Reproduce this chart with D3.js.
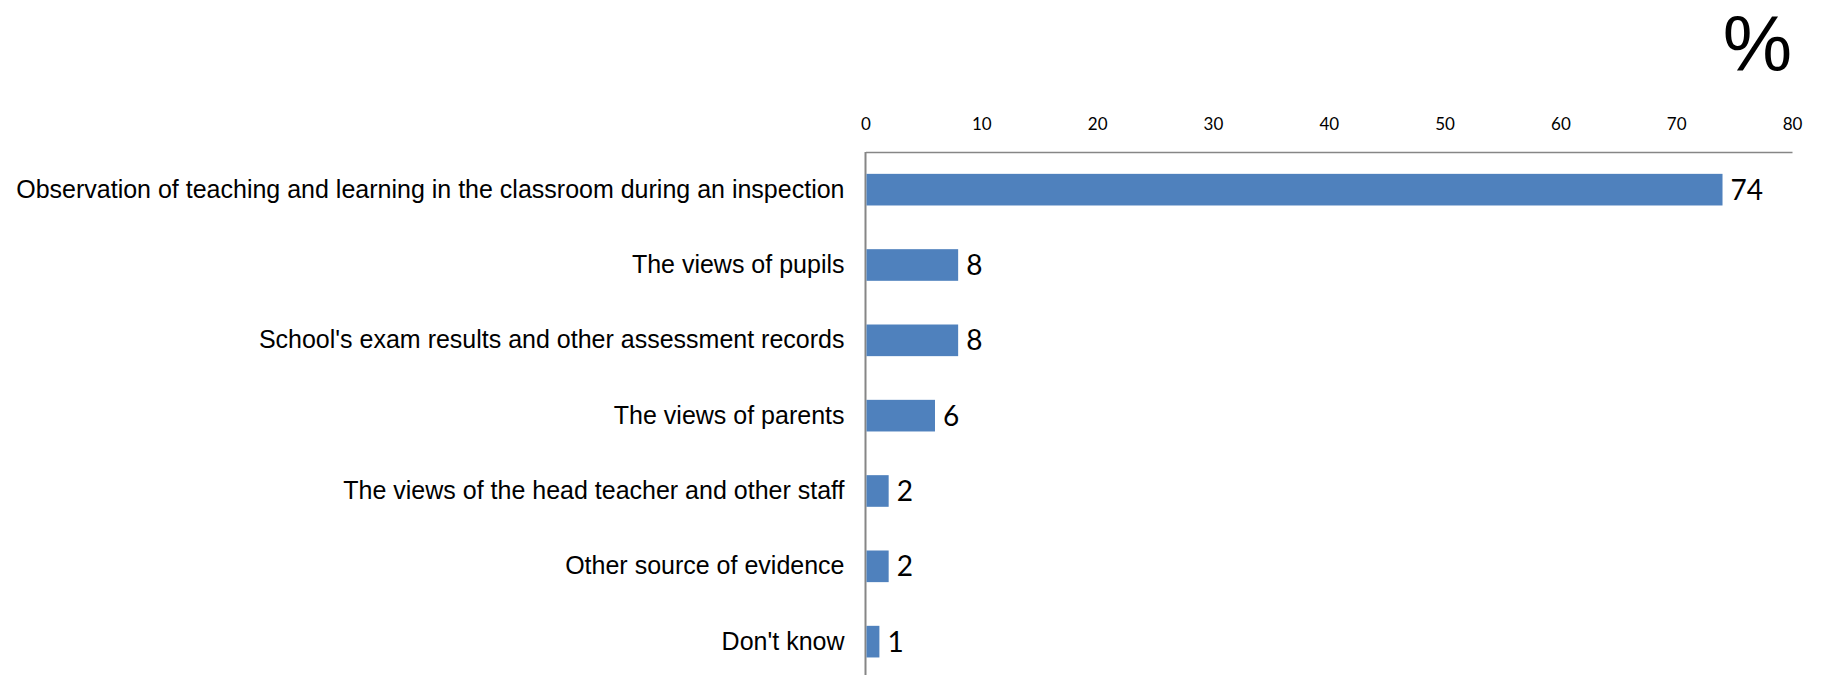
<!DOCTYPE html>
<html>
<head>
<meta charset="utf-8">
<script src="https://cdn.jsdelivr.net/npm/d3@7"></script>
<style>
  body { margin: 0; background: #fff; }
</style>
</head>
<body>
<svg width="1821" height="675"></svg>
<script>
// data
var categories = [
  "Observation of teaching and learning in the classroom during an inspection",
  "The views of pupils",
  "School's exam results and other assessment records",
  "The views of parents",
  "The views of the head teacher and other staff",
  "Other source of evidence",
  "Don't know"
];
var values = [74, 8, 8, 6, 2, 2, 1.2];
var xTicks = [0, 10, 20, 30, 40, 50, 60, 70, 80];

var svg = d3.select("svg"),
    width = +svg.attr("width"),
    height = +svg.attr("height");

var margin = {top: 152, left: 865.5, right: 29};

var x = d3.scaleLinear()
    .domain([0, 80])
    .range([margin.left, width - margin.right]);

var y = d3.scaleBand()
    .domain(categories)
    .range([margin.top, margin.top + 7 * 75.33])
    .paddingInner(0.58)
    .paddingOuter(0.29);

// top axis, labels only
var xAxis = svg.append("g")
    .attr("transform", "translate(0," + margin.top + ")")
    .call(d3.axisTop(x).tickValues(xTicks).tickSize(0).tickPadding(22));
xAxis.attr("font-family", null).attr("font-size", null);
xAxis.select(".domain").attr("stroke", "#868686").attr("stroke-width", 1.5);
xAxis.selectAll("text")
    .style("font-family", "Lato, 'Open Sans', sans-serif")
    .style("font-size", "17px")
    .attr("fill", "#000");

// category labels
var yAxis = svg.append("g")
    .attr("transform", "translate(" + margin.left + ",0)")
    .call(d3.axisLeft(y).tickSize(0).tickPadding(21));
yAxis.select(".domain").remove();
yAxis.selectAll("text")
    .style("font-family", "'Liberation Sans', Arial, sans-serif")
    .style("font-size", "25px")
    .attr("fill", "#000");

// vertical axis line runs off the bottom
svg.append("line")
    .attr("x1", margin.left).attr("x2", margin.left)
    .attr("y1", margin.top).attr("y2", height)
    .attr("stroke", "#868686")
    .attr("stroke-width", 2);

var bars = svg.append("g");
bars.selectAll("rect")
    .data(categories)
    .enter().append("rect")
    .attr("x", x(0) + 1)
    .attr("y", function(d) { return y(d); })
    .attr("height", y.bandwidth())
    .attr("width", function(d, i) { return x(values[i]) - x(0) - 1; })
    .attr("fill", "#4F81BD");

bars.selectAll("text")
    .data(categories)
    .enter().append("text")
    .attr("x", function(d, i) { return x(values[i]) + 8; })
    .attr("y", function(d) { return y(d) + y.bandwidth() / 2; })
    .attr("dy", "0.36em")
    .style("font-family", "Lato, 'Open Sans', sans-serif")
    .style("font-size", "28px")
    .text(function(d, i) { return d3.format(".0f")(values[i]); });

svg.append("text")
    .attr("x", x(80))
    .attr("y", 71)
    .attr("text-anchor", "end")
    .style("font-family", "'Liberation Sans', Arial, sans-serif")
    .style("font-size", "78px")
    .text("%");
</script>
</body>
</html>
